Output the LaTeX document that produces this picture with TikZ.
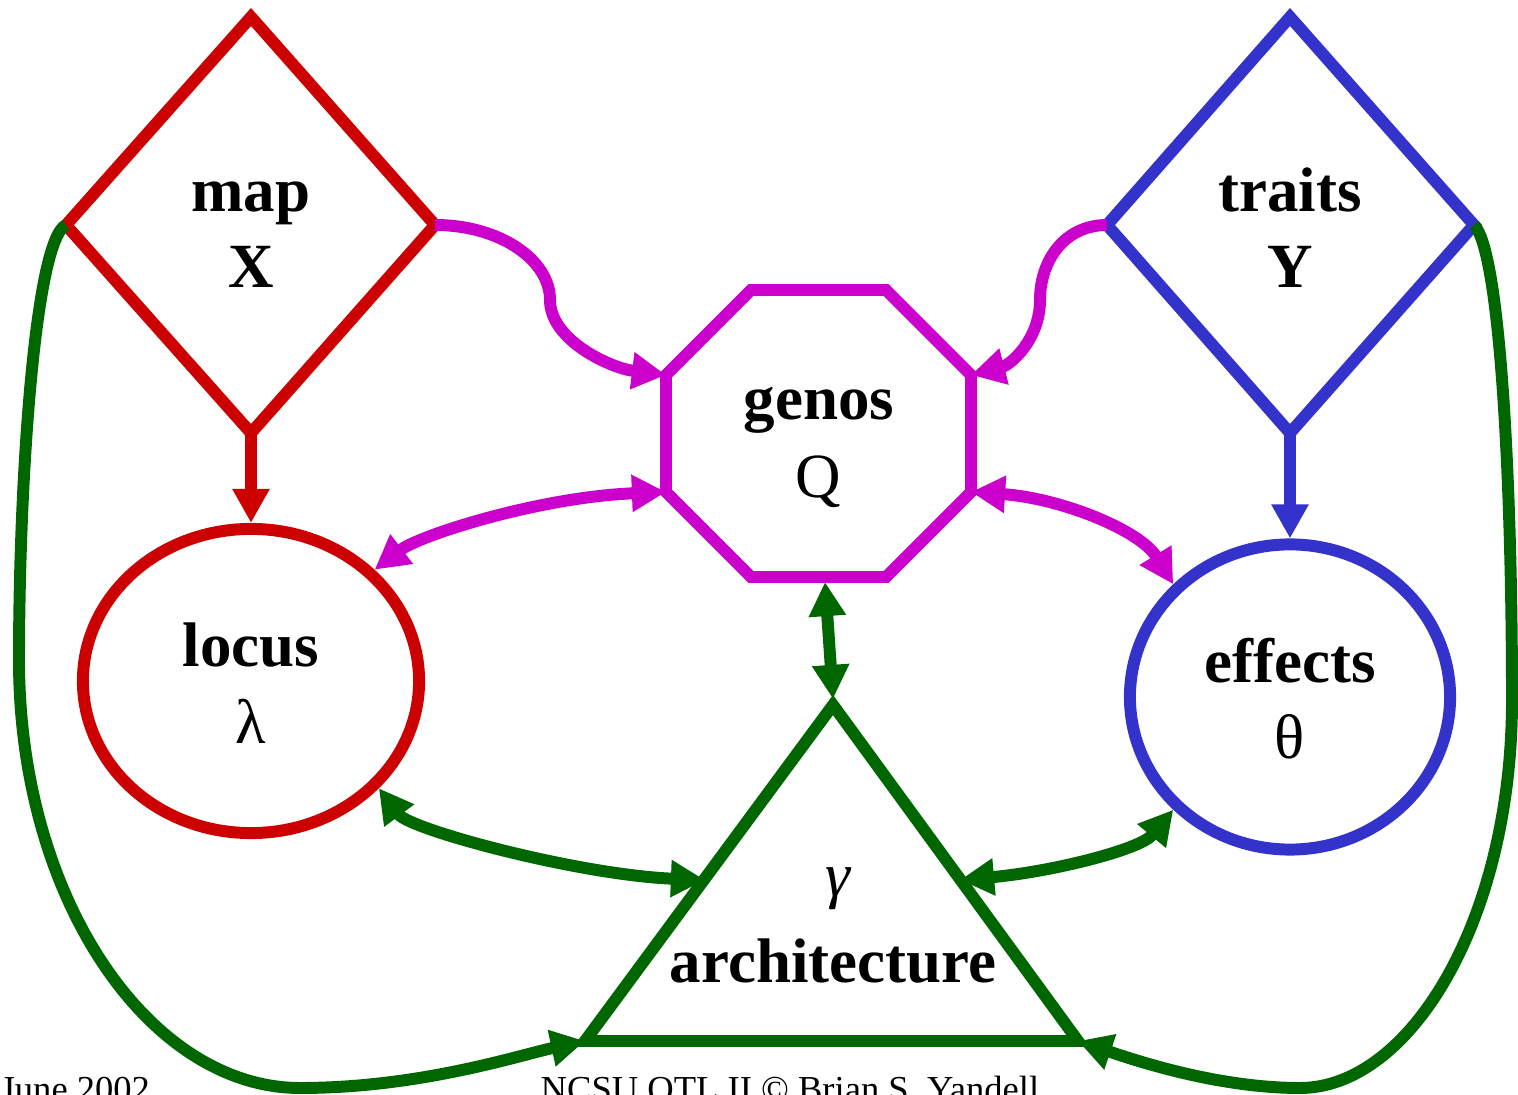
\documentclass[tikz,border=0pt]{standalone}
\usepackage{fontspec}
\setmainfont{Liberation Serif}
\usetikzlibrary{arrows.meta,shapes.geometric}
\definecolor{cred}{HTML}{CC0000}
\definecolor{cblue}{HTML}{3333CC}
\definecolor{cmag}{HTML}{CC00CC}
\definecolor{cgreen}{HTML}{006600}
\begin{document}
\begin{tikzpicture}[x=0.01cm,y=-0.01cm,
  shapeline/.style={line width=3.4pt, line join=miter},
  conn/.style={line width=3.4pt, -{Triangle[length=9.7pt,width=10pt]}},
  dconn/.style={line width=3.4pt, {Triangle[length=9.7pt,width=10pt]}-{Triangle[length=9.7pt,width=10pt]}},
  oval/.style={shape=ellipse, draw, line width=3.4pt, inner sep=0pt},
  lbl/.style={font=\fontsize{17.9pt}{20pt}\selectfont\bfseries, anchor=base, inner sep=0pt},
  sym/.style={font=\fontsize{17.9pt}{20pt}\selectfont, anchor=base, inner sep=0pt},
  foot/.style={font=\fontsize{10.4pt}{12pt}\selectfont, anchor=base west, inner sep=0pt},
]
\useasboundingbox (0,0) rectangle (1518,1095);

% map diamond
\coordinate (mT) at (251,17);
\coordinate (mL) at (66,225);
\coordinate (mR) at (435,225);
\coordinate (mB) at (251,433);
\draw[shapeline, cred] (mT) -- (mR) -- (mB) -- (mL) -- cycle;
\node[lbl] (map) at (251,212) {map};
\node[lbl] (X) at (251,288) {X};

% traits diamond
\coordinate (tT) at (1290,17);
\coordinate (tL) at (1107,225);
\coordinate (tR) at (1474,225);
\coordinate (tB) at (1290,433);
\draw[shapeline, cblue] (tT) -- (tR) -- (tB) -- (tL) -- cycle;
\node[lbl] (traits) at (1290,212) {traits};
\node[lbl] (Y) at (1290,288) {Y};

% genos octagon
\coordinate (o1) at (751,290);
\coordinate (o2) at (886,290);
\coordinate (o3) at (971,375);
\coordinate (o4) at (971,492);
\coordinate (o5) at (886,577);
\coordinate (o6) at (751,577);
\coordinate (o7) at (666,492);
\coordinate (o8) at (666,375);
\coordinate (oBot) at (825,582);
\draw[shapeline, cmag] (o1) -- (o2) -- (o3) -- (o4) -- (o5) -- (o6) -- (o7) -- (o8) -- cycle;
\node[lbl] (genos) at (819,420) {genos};
\node[sym] (Q) at (818,498) {Q};

% locus ellipse
\node[oval, cred, minimum width=3.36cm, minimum height=3.04cm] (locus) at (251,681) {};
\node[lbl] (locustxt) at (251,667) {locus};
\node[sym] (lambda) at (251,744) {λ};

% effects ellipse
\node[oval, cblue, minimum width=3.20cm, minimum height=3.05cm] (effects) at (1290,697) {};
\node[lbl] (effectstxt) at (1290,683) {effects};
\node[sym] (theta) at (1290,759) {θ};

% architecture triangle
\coordinate (aT) at (833,705);
\coordinate (aL) at (585,1041);
\coordinate (aR) at (1078,1041);
\coordinate (aTip) at (833,699);
\coordinate (aLs) at (705,880);
\coordinate (aRs) at (960,880);
\draw[shapeline, cgreen] (aT) -- (aR) -- (aL) -- cycle;
\node[sym, font=\fontsize{17.9pt}{20pt}\selectfont\itshape] (gamma) at (838,897) {γ};
\node[lbl] (arch) at (833,982) {architecture};

% connectors
\draw[conn, cred] (mB) -- (locus.north);
\draw[conn, cblue] (tB) -- (effects.north);

\draw[conn, cmag] (mR) .. controls (500,225) and (550,260) .. (550,300)
                       .. controls (550,340) and (610,368) .. (o8);
\draw[conn, cmag] (tL) .. controls (1065,225) and (1040,260) .. (1040,300)
                       .. controls (1040,340) and (1010,365) .. (o3);
\draw[dconn, cmag] (locus.42) .. controls (420,535) and (540,497) .. (o7);
\draw[dconn, cmag] (o4) .. controls (1060,498) and (1140,530) .. (effects.136);

\draw[dconn, cgreen] (oBot) -- (aTip);
\draw[dconn, cgreen] (locus.-40) .. controls (410,830) and (580,875) .. (aLs);
\draw[dconn, cgreen] (aRs) .. controls (1050,872) and (1140,850) .. (effects.-136);

\draw[conn, cgreen] (mL) .. controls (35,240) and (19,480) .. (19,660)
                    .. controls (19,900) and (150,1088) .. (300,1088)
                    .. controls (420,1088) and (520,1055) .. (aL);
\draw[conn, cgreen] (tR) .. controls (1500,250) and (1512,480) .. (1512,700)
                    .. controls (1512,920) and (1410,1088) .. (1300,1088)
                    .. controls (1220,1088) and (1140,1062) .. (aR);

% footer
\node[foot] (date) at (0,1101) {June 2002};
\node[foot] (credit) at (540,1101) {NCSU QTL II © Brian S. Yandell};
\end{tikzpicture}
\end{document}
